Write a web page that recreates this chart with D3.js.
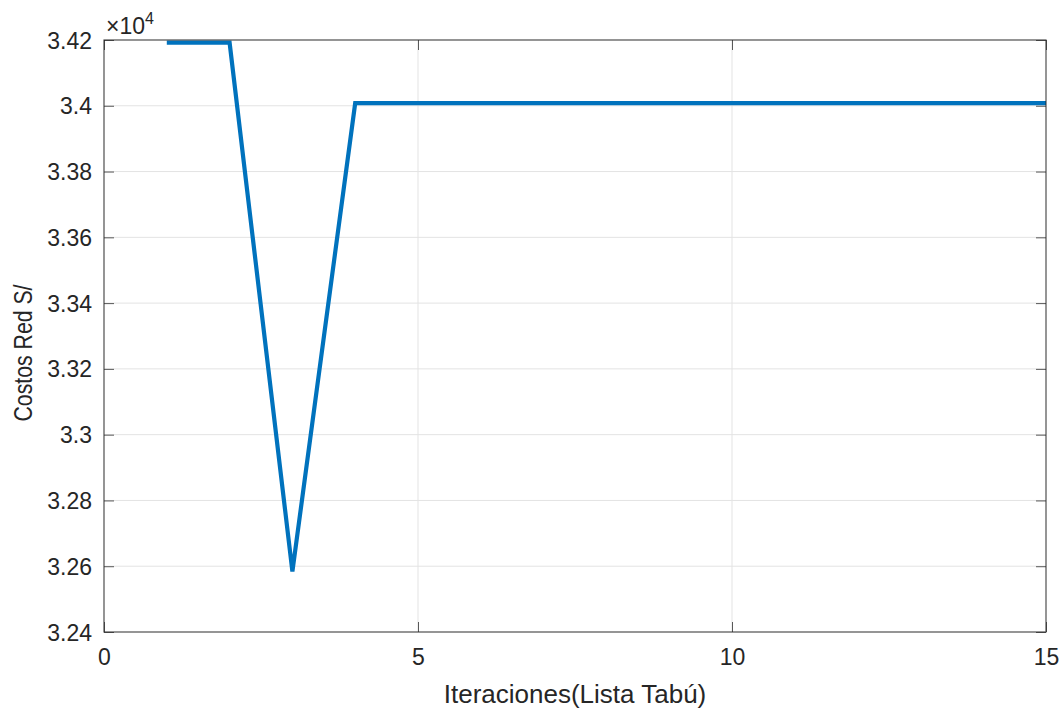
<!DOCTYPE html>
<html>
<head>
<meta charset="utf-8">
<script src="https://cdn.jsdelivr.net/npm/d3@7"></script>
<style>
  body { margin: 0; background: #fff; }
  svg { display: block; font-family: "Liberation Sans", Arial, sans-serif; }
</style>
</head>
<body>
<svg id="chart" width="1064" height="709"></svg>
<script>
// Tabu search cost per iteration
const iterations = [1, 2, 3, 4, 5, 6, 7, 8, 9, 10, 11, 12, 13, 14, 15];
const costs = [34192, 34192, 32584, 34008, 34008, 34008, 34008, 34008, 34008, 34008, 34008, 34008, 34008, 34008, 34008];
const xTicks = [0, 5, 10, 15];
const yTicks = [3.24, 3.26, 3.28, 3.30, 3.32, 3.34, 3.36, 3.38, 3.40, 3.42];
const yTickLabels = ["3.24", "3.26", "3.28", "3.3", "3.32", "3.34", "3.36", "3.38", "3.4", "3.42"];

const svg = d3.select("#chart");
const m = { left: 104, right: 1046, top: 40, bottom: 632 };

const x = d3.scaleLinear().domain([0, 15]).range([m.left, m.right]);
const y = d3.scaleLinear().domain([3.24e4, 3.42e4]).range([m.bottom, m.top]);

const axisColor = "#262626";
const gridColor = "#e3e3e3";

// grid
svg.append("g").selectAll("line").data(xTicks).join("line")
  .attr("x1", d => x(d)).attr("x2", d => x(d))
  .attr("y1", m.top).attr("y2", m.bottom)
  .attr("stroke", gridColor).attr("stroke-width", 1);
svg.append("g").selectAll("line").data(yTicks).join("line")
  .attr("x1", m.left).attr("x2", m.right)
  .attr("y1", d => y(d * 1e4)).attr("y2", d => y(d * 1e4))
  .attr("stroke", gridColor).attr("stroke-width", 1);

// data line
const line = d3.line().x((d, i) => x(iterations[i])).y(d => y(d));
svg.append("path").datum(costs)
  .attr("d", line)
  .attr("fill", "none")
  .attr("stroke", "#0072BD")
  .attr("stroke-width", 4.2)
  .attr("stroke-linejoin", "miter");

// box
svg.append("rect")
  .attr("x", m.left).attr("y", m.top)
  .attr("width", m.right - m.left).attr("height", m.bottom - m.top)
  .attr("fill", "none").attr("stroke", axisColor).attr("stroke-width", 1.2)
  .attr("stroke-opacity", 0.75);

// axes with inward ticks
const yAxisL = d3.axisLeft(y).tickValues(yTicks.map(v => v * 1e4))
  .tickSizeInner(-10).tickSizeOuter(0).tickPadding(12)
  .tickFormat((d, i) => yTickLabels[i]);
const gy = svg.append("g").attr("transform", `translate(${m.left},0)`).call(yAxisL);
const yAxisR = d3.axisRight(y).tickValues(yTicks.map(v => v * 1e4))
  .tickSizeInner(-10).tickSizeOuter(0).tickFormat("");
const gyr = svg.append("g").attr("transform", `translate(${m.right},0)`).call(yAxisR);

const xAxisB = d3.axisBottom(x).tickValues(xTicks)
  .tickSizeInner(-10).tickSizeOuter(0).tickPadding(17).tickFormat(d3.format("d"));
const gx = svg.append("g").attr("transform", `translate(0,${m.bottom})`).call(xAxisB);
const xAxisT = d3.axisTop(x).tickValues(xTicks)
  .tickSizeInner(-10).tickSizeOuter(0).tickFormat("");
const gxt = svg.append("g").attr("transform", `translate(0,${m.top})`).call(xAxisT);

[gy, gyr, gx, gxt].forEach(g => {
  g.select(".domain").remove();
  g.attr("font-size", null).attr("font-family", null);
  g.selectAll(".tick line").attr("stroke", axisColor).attr("stroke-opacity", 0.75);
  g.selectAll(".tick text").attr("fill", axisColor).style("font-size", "23px");
});
gy.selectAll(".tick text").attr("dy", "0.35em");

// exponent label
const exp = svg.append("text").attr("x", m.left + 2).attr("y", 34)
  .attr("fill", axisColor).style("font-size", "23px");
exp.append("tspan").text("\u00d710");
exp.append("tspan").attr("dy", -10).style("font-size", "16px").text("4");

// axis titles
svg.append("text")
  .attr("x", (m.left + m.right) / 2).attr("y", 703)
  .attr("text-anchor", "middle").attr("fill", axisColor)
  .style("font-size", "26px").text("Iteraciones(Lista Tabú)");
svg.append("text")
  .attr("transform", `translate(32,${(m.top + m.bottom) / 2 + 17}) rotate(-90)`)
  .attr("text-anchor", "middle").attr("fill", axisColor)
  .attr("textLength", 137).attr("lengthAdjust", "spacingAndGlyphs")
  .style("font-size", "26px").text("Costos Red S/");
</script>
</body>
</html>
